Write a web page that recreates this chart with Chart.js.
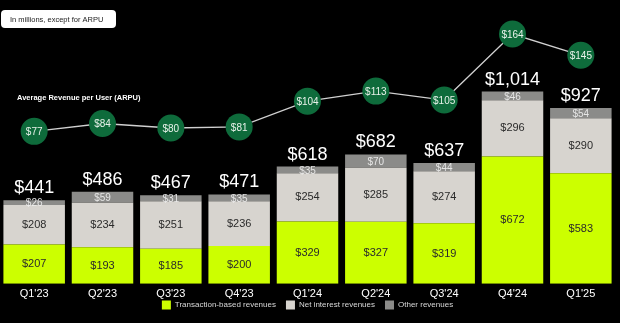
<!DOCTYPE html>
<html>
<head>
<meta charset="utf-8">
<script src="https://cdn.jsdelivr.net/npm/chart.js@4.4.1/dist/chart.umd.min.js"></script>
<style>
  html, body { margin: 0; padding: 0; background: #000; }
  #wrap { position: relative; width: 620px; height: 323px; }
</style>
</head>
<body>
<div id="wrap"><canvas id="myChart"></canvas></div>
<script>
// data
const quarters = ["Q1'23", "Q2'23", "Q3'23", "Q4'23", "Q1'24", "Q2'24", "Q3'24", "Q4'24", "Q1'25"];
const transactionRev = [207, 193, 185, 200, 329, 327, 319, 672, 583];
const netInterestRev = [208, 234, 251, 236, 254, 285, 274, 296, 290];
const otherRev = [26, 59, 31, 35, 35, 70, 44, 46, 54];
const totalRev = [441, 486, 467, 471, 618, 682, 637, 1014, 927];
const arpu = [77, 84, 80, 81, 104, 113, 105, 164, 145];

const FONT = "'Liberation Sans', Arial, Helvetica, sans-serif";

// labels on bars, totals, ARPU bubbles and the two notes at the top
const labelPlugin = {
  id: 'labels',
  afterDatasetsDraw(chart) {
    const ctx = chart.ctx;
    ctx.save();
    ctx.textAlign = 'center';
    ctx.textBaseline = 'middle';

    const tx = chart.getDatasetMeta(0).data;
    const ni = chart.getDatasetMeta(1).data;
    const ot = chart.getDatasetMeta(2).data;

    for (let i = 0; i < quarters.length; i++) {
      ctx.fillStyle = '#2b2b2b';
      ctx.font = '11px ' + FONT;
      ctx.fillText('$' + transactionRev[i], tx[i].x, (tx[i].y + tx[i].base) / 2);
      ctx.fillText('$' + netInterestRev[i], ni[i].x, (ni[i].y + ni[i].base) / 2);

      ctx.fillStyle = 'rgba(240,240,240,0.9)';
      ctx.font = '10px ' + FONT;
      ctx.fillText('$' + otherRev[i], ot[i].x, (ot[i].y + ot[i].base) / 2 + 1);

      ctx.fillStyle = '#ffffff';
      ctx.font = '18px ' + FONT;
      ctx.fillText('$' + totalRev[i].toLocaleString('en-US'), ot[i].x, ot[i].y - 12);
    }

    const pts = chart.getDatasetMeta(3).data;
    ctx.fillStyle = '#e8f2ea';
    ctx.font = '10px ' + FONT;
    pts.forEach((p, i) => ctx.fillText('$' + arpu[i], p.x, p.y + 1));

    // ARPU caption
    ctx.textAlign = 'left';
    ctx.fillStyle = '#ffffff';
    ctx.font = 'bold 7.5px ' + FONT;
    ctx.fillText('Average Revenue per User (ARPU)', 17, 98);

    // units note
    ctx.fillStyle = '#ffffff';
    ctx.beginPath();
    ctx.roundRect(1, 10, 115, 18, 4);
    ctx.fill();
    ctx.fillStyle = '#222';
    ctx.font = '7.5px ' + FONT;
    ctx.fillText('In millions, except for ARPU', 10, 19.5);

    ctx.restore();
  }
};

// pull the legend row up closer to the quarter names
const legendNudge = {
  id: 'legendNudge',
  afterLayout(chart) {
    chart.legend.top -= 14.5;
    chart.legend.bottom -= 14.5;
  }
};

const data = {
  labels: quarters,
  datasets: [
    { type: 'bar', label: 'Transaction-based revenues', data: transactionRev, backgroundColor: '#ccff00', yAxisID: 'y', order: 1 },
    { type: 'bar', label: 'Net interest revenues', data: netInterestRev, backgroundColor: '#d7d4cf', yAxisID: 'y', order: 1 },
    { type: 'bar', label: 'Other revenues', data: otherRev, backgroundColor: '#8b8b89', yAxisID: 'y', order: 1 },
    {
      type: 'line', label: 'ARPU', data: arpu, yAxisID: 'y2', order: 0,
      borderColor: '#d0d0d0', borderWidth: 1.3,
      pointRadius: 13.5, pointHoverRadius: 13.5,
      pointBackgroundColor: '#0e6b3b', pointBorderWidth: 0
    }
  ]
};

const config = {
  data,
  options: {
    responsive: true,
    maintainAspectRatio: false,
    animation: false,
    layout: { autoPadding: false, padding: { top: 10, right: 5, left: 0, bottom: -11 } },
    datasets: { bar: { categoryPercentage: 0.9, barPercentage: 1 } },
    scales: {
      x: {
        stacked: true,
        grid: { display: false, drawTicks: false },
        border: { display: false },
        ticks: { color: '#ffffff', font: { family: FONT, size: 11 }, padding: 4 }
      },
      y: { stacked: true, display: false, min: 0, max: 1444 },
      y2: { display: false, min: -59.3, max: 185.5 }
    },
    plugins: {
      tooltip: { enabled: false },
      legend: {
        position: 'bottom',
        labels: {
          color: '#d8d8d8',
          font: { family: FONT, size: 8 },
          boxWidth: 9, boxHeight: 9, padding: 10,
          filter: item => item.datasetIndex < 3
        }
      }
    }
  },
  plugins: [labelPlugin, legendNudge]
};

const myChart = new Chart(document.getElementById('myChart'), config);
</script>
</body>
</html>
